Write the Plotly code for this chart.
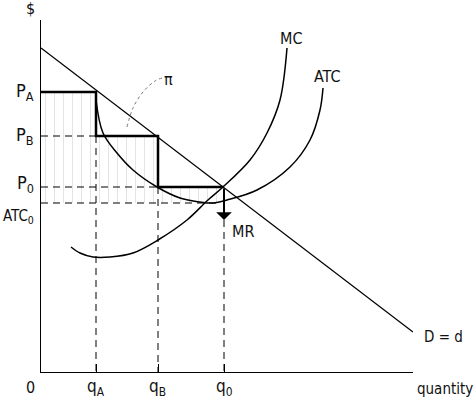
import plotly.graph_objects as go

# ---- data (quantity units, price units) ----
q_A, q_B, q_0 = 5.5, 11.7, 18.3
P_A, P_B, P_0 = 28.0, 23.6, 18.5
ATC_0 = 16.9
MR_tip = 15.2

demand_q = [0.0, 37.2]
demand_p = [32.4, 4.0]

atc_q = [5.5, 6.2, 7.6, 9.2, 11.6, 13.9, 15.9, 17.2, 18.6, 21.6, 24.9, 26.9, 27.9, 28.2]
atc_p = [27.2, 23.9, 21.9, 20.2, 18.5, 17.4, 17.0, 16.9, 17.2, 18.2, 20.5, 23.2, 26.2, 28.4]

mc_q = [3.0, 3.9, 5.2, 6.9, 9.2, 11.7, 14.6, 16.7, 18.2, 20.9, 22.6, 23.9, 24.6]
mc_p = [12.5, 11.9, 11.5, 11.5, 11.9, 13.2, 15.2, 17.2, 18.5, 21.2, 23.9, 27.2, 32.4]

pi_q = [8.6, 9.2, 10.2, 11.4, 12.1]
pi_p = [24.5, 26.4, 28.0, 29.1, 29.4]

x_tick_vals = [q_A, q_B, q_0]
x_tick_text = ["q<sub>A</sub>", "q<sub>B</sub>", "q<sub>0</sub>"]
y_label_vals = [P_A, P_B, P_0, ATC_0]
y_label_text = ["P<sub>A</sub>", "P<sub>B</sub>", "P<sub>0</sub>", "ATC<sub>0</sub>"]
y_label_offsets = [0.0, 0.0, 0.3, -1.3]
y_label_sizes = [18, 18, 18, 15]

X_MAX, Y_MAX = 37.2, 35.2
FONT = "DejaVu Sans Condensed, Liberation Sans, Arial, sans-serif"
fig = go.Figure()

# profit area (dotted shading)
fig.add_trace(go.Scatter(
    x=[0, q_A, q_A, q_B, q_B, q_0, q_0, 0, 0],
    y=[P_A, P_A, P_B, P_B, P_0, P_0, ATC_0, ATC_0, P_A],
    mode="none", fill="toself", fillcolor="rgba(0,0,0,0)",
    fillpattern=dict(shape="|", size=9, solidity=0.1, fgcolor="#c4c4c4", bgcolor="white"),
    hoverinfo="skip"))

# dashed guide lines
dx = [0, q_A, None, 0, q_B, None, 0, 17.5, None,
      q_A, q_A, None, q_B, q_B, None, q_0, q_0]
dy = [P_B, P_B, None, P_0, P_0, None, ATC_0, ATC_0, None,
      P_B, 0, None, P_0, 0, None, MR_tip, 0]
fig.add_trace(go.Scatter(x=dx, y=dy, mode="lines",
                         line=dict(color="black", width=1, dash="7px,5px"),
                         hoverinfo="skip"))

# demand
fig.add_trace(go.Scatter(x=demand_q, y=demand_p, mode="lines",
                         line=dict(color="black", width=1.3), hoverinfo="skip"))
# ATC
fig.add_trace(go.Scatter(x=atc_q, y=atc_p, mode="lines",
                         line=dict(color="black", width=1.5, shape="spline"), hoverinfo="skip"))
# MC
fig.add_trace(go.Scatter(x=mc_q, y=mc_p, mode="lines",
                         line=dict(color="black", width=1.5, shape="spline"), hoverinfo="skip"))
# pi pointer
fig.add_trace(go.Scatter(x=pi_q, y=pi_p, mode="lines",
                         line=dict(color="#777777", width=1, dash="dot", shape="spline"),
                         hoverinfo="skip"))
# step (price discrimination)
fig.add_trace(go.Scatter(x=[0, q_A, q_A, q_B, q_B, q_0],
                         y=[P_A, P_A, P_B, P_B, P_0, P_0], mode="lines",
                         line=dict(color="black", width=2.5), hoverinfo="skip"))


def px(q):
    return q / X_MAX


def py(p):
    return p / Y_MAX


ann = []
# MR arrow
ann.append(dict(x=q_0, y=MR_tip, ax=q_0, ay=P_0, xref="x", yref="y", axref="x", ayref="y",
                text="", showarrow=True, arrowhead=1, arrowsize=1.3, arrowwidth=2,
                arrowcolor="black", standoff=0))
labels = []
for v, t in zip(x_tick_vals, x_tick_text):
    labels.append(dict(x=px(v), y=py(-1.55), text=t, xanchor="center", font=dict(size=17)))
for v, t, o, s in zip(y_label_vals, y_label_text, y_label_offsets, y_label_sizes):
    labels.append(dict(x=px(-0.5), y=py(v + o), text=t, xanchor="right", font=dict(size=s)))
labels += [
    dict(x=px(-1.1), y=py(-1.5), text="0", xanchor="center", font=dict(size=16)),
    dict(x=px(-1.1), y=py(36.4), text="$", xanchor="center", font=dict(size=16)),
    dict(x=px(40.4), y=py(-1.7), text="quantity", xanchor="center", font=dict(size=15)),
    dict(x=px(38.1), y=py(3.5), text="D = d", xanchor="left", font=dict(size=15)),
    dict(x=px(25.0), y=py(33.4), text="MC", xanchor="center", font=dict(size=16)),
    dict(x=px(28.7), y=py(29.55), text="ATC", xanchor="center", font=dict(size=16)),
    dict(x=px(12.75), y=py(29.3), text="π", xanchor="center", font=dict(size=16)),
    dict(x=px(20.25), y=py(14.1), text="MR", xanchor="center", font=dict(size=16)),
]
for a in labels:
    a.update(xref="paper", yref="paper", showarrow=False, yanchor="middle")
ann += labels

fig.update_layout(
    width=474, height=400,
    margin=dict(l=41, r=61, t=20, b=28),
    paper_bgcolor="white", plot_bgcolor="white",
    showlegend=False,
    font=dict(family=FONT, size=15, color="#111111"),
    annotations=ann,
    xaxis=dict(range=[0, X_MAX], showline=True, linecolor="black", linewidth=1,
               showgrid=False, zeroline=False, ticks="inside", tickvals=x_tick_vals,
               ticklen=8, tickcolor="black", showticklabels=False, fixedrange=True),
    yaxis=dict(range=[0, Y_MAX], showline=True, linecolor="black", linewidth=1,
               showgrid=False, zeroline=False, ticks="", showticklabels=False,
               fixedrange=True),
)

# remove the page's default 8px body margin so the figure sits at the window origin
fig.write_html("out.html", config={"displayModeBar": False, "staticPlot": True},
               post_script="document.body.style.margin='0';document.body.style.padding='0';document.body.style.overflow='hidden';")
